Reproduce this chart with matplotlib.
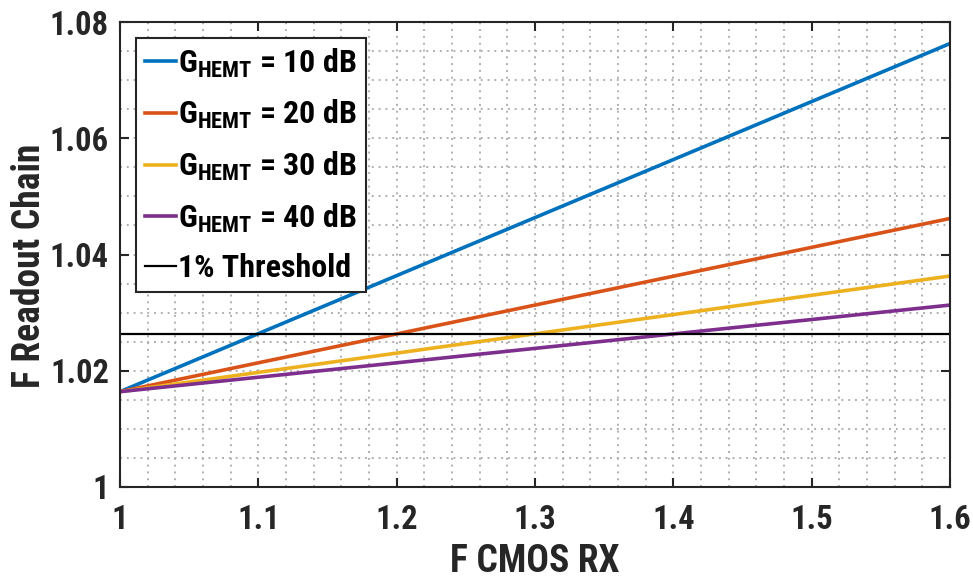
import matplotlib
matplotlib.use("Agg")
import matplotlib.pyplot as plt
from matplotlib.ticker import MultipleLocator
from matplotlib import font_manager

# condensed bold sans for all text, plain Liberation Sans as a fallback
names = {f.name for f in font_manager.fontManager.ttflist}
FONT = "Roboto Condensed" if "Roboto Condensed" in names else "Liberation Sans"

plt.rcParams["font.family"] = [FONT, "DejaVu Sans"]
plt.rcParams["font.weight"] = "bold"
plt.rcParams["mathtext.fontset"] = "custom"
plt.rcParams["mathtext.rm"] = FONT + ":bold"
plt.rcParams["mathtext.bf"] = FONT + ":bold"
plt.rcParams["mathtext.default"] = "bf"

# noise figure of the readout chain vs. CMOS receiver noise figure
f_cmos = [1.0, 1.6]
f_g10 = [1.0164, 1.0763]
f_g20 = [1.0164, 1.0462]
f_g30 = [1.0164, 1.0363]
f_g40 = [1.0164, 1.0313]
threshold = 1.0264

gains = ["10", "20", "30", "40"]
colors = ["#0072BD", "#D95319", "#EDB120", "#7E2F8E"]

x_ticks = [1.0, 1.1, 1.2, 1.3, 1.4, 1.5, 1.6]
x_ticklabels = ["1", "1.1", "1.2", "1.3", "1.4", "1.5", "1.6"]
y_ticks = [1.0, 1.02, 1.04, 1.06, 1.08]
y_ticklabels = ["1", "1.02", "1.04", "1.06", "1.08"]

fig = plt.figure(figsize=(9.73, 5.81), dpi=100)
ax = fig.add_axes([0.1233, 0.1618, 0.8531, 0.8003])

for ys, g, c in zip([f_g10, f_g20, f_g30, f_g40], gains, colors):
    ax.plot(f_cmos, ys, color=c, lw=2.6,
            label=r"G$_{\mathbf{HEMT}}$ = " + g + " dB")
ax.axhline(threshold, color="black", lw=1.6, label="1% Threshold")

ax.set_xlim(1.0, 1.6)
ax.set_ylim(1.0, 1.08)
ax.set_xticks(x_ticks)
ax.set_xticklabels(x_ticklabels)
ax.set_yticks(y_ticks)
ax.set_yticklabels(y_ticklabels)
ax.xaxis.set_minor_locator(MultipleLocator(0.02))
ax.yaxis.set_minor_locator(MultipleLocator(0.005))

ax.grid(True, which="both", linestyle=(0, (1, 2.5)), color="#b0b0b0", lw=1.4)
ax.set_axisbelow(True)

ax.tick_params(which="major", direction="in", length=6.5, width=1.5,
               top=True, right=True, labelsize=23.5, colors="#262626")
ax.tick_params(axis="x", which="major", pad=12)
ax.tick_params(axis="y", which="major", pad=8)
ax.tick_params(which="minor", length=0, top=True, right=True)
for s in ax.spines.values():
    s.set_linewidth(1.5)
    s.set_color("#262626")

ax.set_xlabel("F CMOS RX", fontsize=27, fontweight="bold", color="#262626", labelpad=5)
ax.set_ylabel("F Readout Chain", fontsize=27, fontweight="bold", color="#262626")
# rotated label: anchor sits on its right-hand (baseline) side
ax.yaxis.set_label_coords(-0.087, 0.475)

leg = ax.legend(loc="upper left", bbox_to_anchor=(16 / 830, 1 - 16 / 465),
                borderaxespad=0, fontsize=23, handlelength=0.97,
                handletextpad=0.08, labelspacing=0.58, borderpad=0.27,
                fancybox=False, framealpha=1)
leg.get_frame().set_edgecolor("#262626")
leg.get_frame().set_linewidth(1.5)

fig.savefig("out.png", dpi=100)
